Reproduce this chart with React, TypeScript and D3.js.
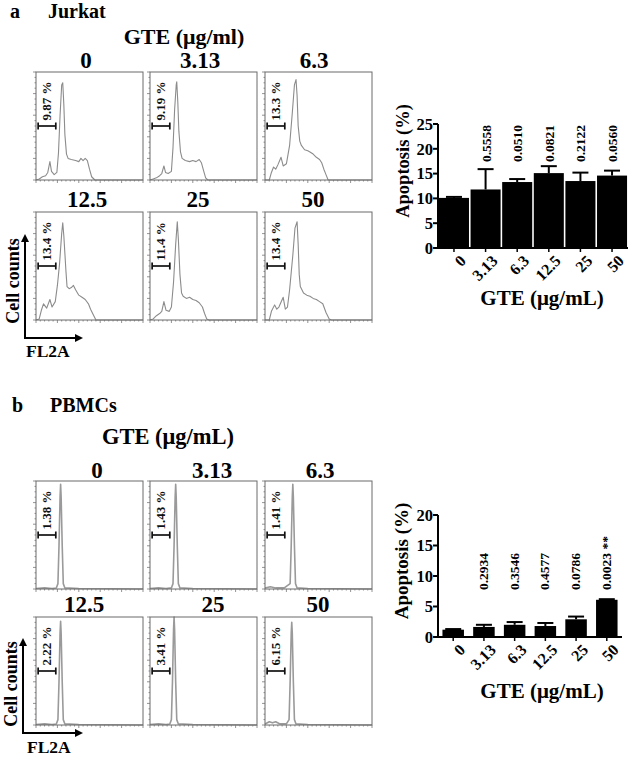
import React from 'react';
import * as d3 from 'd3';

// ---------------- DATA ----------------
const concentrations = ['0', '3.13', '6.3', '12.5', '25', '50'];

const jurkatApoptosis = [10.1, 11.8, 13.3, 15.1, 13.5, 14.6];
const jurkatError = [0.2, 4.1, 0.6, 1.4, 1.7, 1.0];
const jurkatPValues = ['', '0.5558', '0.0510', '0.0821', '0.2122', '0.0560'];
const jurkatYTicks = [0, 5, 10, 15, 20, 25];

const pbmcApoptosis = [1.2, 1.65, 2.0, 1.8, 2.9, 6.1];
const pbmcError = [0.1, 0.35, 0.45, 0.5, 0.45, 0.1];
const pbmcPValues = ['', '0.2934', '0.3546', '0.4577', '0.0786', '0.0023 **'];
const pbmcYTicks = [0, 5, 10, 15, 20];

const jurkatGates = ['9.87 %', '9.19 %', '13.3 %', '13.4 %', '11.4 %', '13.4 %'];
const pbmcGates = ['1.38 %', '1.43 %', '1.41 %', '2.22 %', '3.41 %', '6.15 %'];

// histogram traces (FL2A fraction, relative cell count)
const jurkatHist0 = [[0, 0], [0.03, 0.01], [0.06, 0.03], [0.09, 0.04], [0.11, 0.07], [0.13, 0.17], [0.145, 0.08], [0.17, 0.05], [0.195, 0.07], [0.21, 0.25], [0.225, 0.6], [0.24, 0.88], [0.25, 0.9], [0.26, 0.7], [0.27, 0.42], [0.285, 0.24], [0.3, 0.2], [0.33, 0.19], [0.37, 0.18], [0.4, 0.17], [0.42, 0.2], [0.44, 0.18], [0.46, 0.2], [0.48, 0.18], [0.5, 0.1], [0.52, 0.03], [0.55, 0], [1, 0]];
const jurkatHist313 = [[0, 0], [0.03, 0.01], [0.06, 0.02], [0.09, 0.04], [0.11, 0.06], [0.13, 0.13], [0.145, 0.07], [0.17, 0.06], [0.2, 0.08], [0.215, 0.3], [0.23, 0.65], [0.245, 0.88], [0.25, 0.91], [0.26, 0.72], [0.27, 0.45], [0.285, 0.26], [0.3, 0.2], [0.33, 0.18], [0.37, 0.17], [0.4, 0.18], [0.43, 0.17], [0.46, 0.19], [0.48, 0.16], [0.5, 0.09], [0.52, 0.02], [0.54, 0], [1, 0]];
const jurkatHist63 = [[0, 0], [0.04, 0], [0.06, 0.07], [0.08, 0.12], [0.1, 0.1], [0.12, 0.14], [0.15, 0.21], [0.17, 0.13], [0.2, 0.15], [0.23, 0.32], [0.255, 0.62], [0.275, 0.88], [0.29, 0.93], [0.3, 0.78], [0.31, 0.5], [0.325, 0.36], [0.34, 0.32], [0.37, 0.28], [0.4, 0.27], [0.42, 0.26], [0.45, 0.24], [0.48, 0.21], [0.51, 0.19], [0.53, 0.16], [0.55, 0.1], [0.57, 0.05], [0.59, 0], [1, 0]];
const jurkatHist125 = [[0, 0], [0.03, 0.01], [0.05, 0.09], [0.07, 0.15], [0.1, 0.11], [0.13, 0.19], [0.15, 0.12], [0.18, 0.17], [0.2, 0.32], [0.22, 0.52], [0.24, 0.8], [0.25, 0.9], [0.26, 0.78], [0.28, 0.45], [0.29, 0.31], [0.31, 0.29], [0.33, 0.3], [0.35, 0.32], [0.37, 0.28], [0.4, 0.23], [0.43, 0.21], [0.46, 0.19], [0.49, 0.15], [0.51, 0.1], [0.54, 0.04], [0.56, 0], [1, 0]];
const jurkatHist25 = [[0, 0], [0.03, 0.01], [0.06, 0.04], [0.09, 0.06], [0.11, 0.08], [0.13, 0.17], [0.15, 0.09], [0.18, 0.08], [0.2, 0.12], [0.22, 0.35], [0.24, 0.7], [0.255, 0.91], [0.265, 0.75], [0.28, 0.42], [0.295, 0.25], [0.31, 0.22], [0.34, 0.2], [0.37, 0.21], [0.4, 0.19], [0.43, 0.18], [0.46, 0.16], [0.49, 0.12], [0.51, 0.06], [0.53, 0.01], [0.55, 0], [1, 0]];
const jurkatHist50 = [[0, 0], [0.04, 0], [0.06, 0.08], [0.09, 0.14], [0.11, 0.1], [0.13, 0.12], [0.17, 0.21], [0.19, 0.1], [0.21, 0.12], [0.23, 0.28], [0.26, 0.6], [0.28, 0.85], [0.3, 0.91], [0.31, 0.7], [0.32, 0.42], [0.33, 0.31], [0.36, 0.25], [0.39, 0.23], [0.42, 0.22], [0.45, 0.2], [0.48, 0.19], [0.51, 0.17], [0.54, 0.15], [0.57, 0.07], [0.6, 0.01], [0.62, 0], [1, 0]];

const pbmcHist0 = [[0, 0.005], [0.08, 0.01], [0.15, 0.005], [0.19, 0.01], [0.205, 0.05], [0.215, 0.4], [0.225, 0.85], [0.23, 0.97], [0.235, 0.85], [0.245, 0.4], [0.255, 0.05], [0.27, 0.01], [0.4, 0.005], [1, 0]];
const pbmcHist313 = [[0, 0.005], [0.08, 0.01], [0.15, 0.005], [0.2, 0.01], [0.215, 0.05], [0.225, 0.4], [0.235, 0.85], [0.24, 0.97], [0.245, 0.85], [0.255, 0.4], [0.265, 0.05], [0.28, 0.01], [0.4, 0.005], [1, 0]];
const pbmcHist63 = [[0, 0.01], [0.05, 0.02], [0.1, 0.01], [0.18, 0.01], [0.235, 0.05], [0.245, 0.4], [0.255, 0.85], [0.26, 0.97], [0.265, 0.85], [0.275, 0.4], [0.285, 0.05], [0.3, 0.01], [0.4, 0.005], [1, 0]];
const pbmcHist125 = [[0, 0.005], [0.08, 0.01], [0.15, 0.005], [0.19, 0.01], [0.205, 0.05], [0.215, 0.4], [0.225, 0.85], [0.23, 0.96], [0.235, 0.85], [0.245, 0.4], [0.255, 0.05], [0.27, 0.01], [0.4, 0.005], [1, 0]];
const pbmcHist25 = [[0, 0.005], [0.08, 0.01], [0.15, 0.005], [0.185, 0.01], [0.2, 0.05], [0.21, 0.4], [0.22, 0.88], [0.225, 1.0], [0.23, 0.88], [0.24, 0.4], [0.25, 0.05], [0.265, 0.01], [0.4, 0.005], [1, 0]];
const pbmcHist50 = [[0, 0.01], [0.04, 0.03], [0.07, 0.02], [0.1, 0.03], [0.14, 0.01], [0.2, 0.01], [0.225, 0.05], [0.235, 0.4], [0.245, 0.85], [0.25, 0.95], [0.255, 0.85], [0.265, 0.4], [0.275, 0.05], [0.29, 0.01], [0.4, 0.005], [1, 0]];

const jurkatHists = [jurkatHist0, jurkatHist313, jurkatHist63, jurkatHist125, jurkatHist25, jurkatHist50];
const pbmcHists = [pbmcHist0, pbmcHist313, pbmcHist63, pbmcHist125, pbmcHist25, pbmcHist50];

// ---------------- LAYOUT ----------------
const FONT = '"Liberation Serif", "Times New Roman", serif';
const BOX_W = 107;
const BOX_H = 108;

type Pt = number[];

function Histogram({ x, y, pts, gate, color, width }: { x: number; y: number; pts: Pt[]; gate: string; color: string; width: number }) {
  const xs = d3.scaleLinear().domain([0, 1]).range([x, x + BOX_W]);
  const ys = d3.scaleLinear().domain([0, 1]).range([y + BOX_H, y]);
  const line = d3.line<Pt>().x((d) => xs(d[0])).y((d) => ys(d[1]));
  const leftTicks = d3.range(0, 21).map((i) => i / 20);
  const bottomTicks = d3.range(0, 26).map((i) => i / 25);
  const gy = ys(0.5);
  const gx0 = xs(0.02);
  const gx1 = xs(0.185);
  return (
    <g>
      {leftTicks.map((t, i) => (
        <line key={'l' + i} x1={x} x2={x - (i % 4 === 0 ? 3 : 1.5)} y1={ys(t)} y2={ys(t)} stroke="#777" strokeWidth={0.8} />
      ))}
      {bottomTicks.map((t, i) => (
        <line key={'b' + i} x1={xs(t)} x2={xs(t)} y1={y + BOX_H} y2={y + BOX_H + (i % 5 === 0 ? 3 : 1.5)} stroke="#777" strokeWidth={0.8} />
      ))}
      <path d={line(pts) || ''} fill="none" stroke={color} strokeWidth={width} strokeLinejoin="round" />
      <rect x={x} y={y} width={BOX_W} height={BOX_H} fill="none" stroke="#6a6a6a" strokeWidth={1} />
      <line x1={gx0} x2={gx1} y1={gy} y2={gy} stroke="#111" strokeWidth={1.7} />
      <line x1={gx0} x2={gx0} y1={gy - 3.5} y2={gy + 3.5} stroke="#111" strokeWidth={1.7} />
      <line x1={gx1} x2={gx1} y1={gy - 3.5} y2={gy + 3.5} stroke="#111" strokeWidth={1.7} />
      <text
        transform={`translate(${xs(0.1) + 4.5},${ys(0.55)}) rotate(-90)`}
        fontFamily={FONT}
        fontWeight="bold"
        fontSize={13}
        fill="#111"
      >
        {gate}
      </text>
    </g>
  );
}

function Arrows({ ox, oy, topY, rightX, textX, textY, flX, flY }: any) {
  return (
    <g>
      <line x1={ox} x2={ox} y1={oy} y2={topY + 6} stroke="#000" strokeWidth={2} />
      <polygon points={`${ox - 4},${topY + 8} ${ox + 4},${topY + 8} ${ox},${topY}`} fill="#000" />
      <line x1={ox - 1} x2={rightX - 6} y1={oy} y2={oy} stroke="#000" strokeWidth={2} />
      <polygon points={`${rightX - 8},${oy - 4} ${rightX - 8},${oy + 4} ${rightX},${oy}`} fill="#000" />
      <text transform={`translate(${textX},${textY}) rotate(-90)`} textAnchor="middle" fontFamily={FONT} fontWeight="bold" fontSize={18}>
        Cell counts
      </text>
      <text x={flX} y={flY} fontFamily={FONT} fontWeight="bold" fontSize={17.5}>
        FL2A
      </text>
    </g>
  );
}

function BarChart({ values, errors, pvals, ticks, yMax, x0, x1, yBottom, yTop, padIn, padOut, pvalY, pvalDx, titleX, titleY, titleSize, xTitleY }: any) {
  const xScale = d3.scaleBand<string>().domain(concentrations).range([x0, x1]).paddingInner(padIn).paddingOuter(padOut);
  const yScale = d3.scaleLinear().domain([0, yMax]).range([yBottom, yTop]);
  const bw = xScale.bandwidth();
  return (
    <g fontFamily={FONT} fontWeight="bold">
      {concentrations.map((c, i) => {
        const bx = xScale(c) as number;
        const cx = bx + bw / 2;
        const top = yScale(values[i]);
        const errTop = yScale(values[i] + errors[i]);
        return (
          <g key={c}>
            <line x1={cx} x2={cx} y1={top} y2={errTop} stroke="#000" strokeWidth={2} />
            <line x1={cx - 8} x2={cx + 8} y1={errTop} y2={errTop} stroke="#000" strokeWidth={2} />
            <rect x={bx} y={top} width={bw} height={yBottom - top} fill="#000" />
            <line x1={cx} x2={cx} y1={yBottom} y2={yBottom + 4} stroke="#000" strokeWidth={1.5} />
            <text transform={`translate(${cx + 9},${yBottom + 10}) rotate(-45)`} textAnchor="end" dy="0.35em" fontSize={16}>
              {c}
            </text>
            {pvals[i] ? (
              <text transform={`translate(${cx + pvalDx},${pvalY}) rotate(-90)`} fontSize={13.5}>
                {pvals[i]}
              </text>
            ) : null}
          </g>
        );
      })}
      <line x1={x0} x2={x0} y1={yBottom + 1} y2={yTop} stroke="#000" strokeWidth={2} />
      <line x1={x0 - 1} x2={x1} y1={yBottom} y2={yBottom} stroke="#000" strokeWidth={2} />
      {ticks.map((t: number) => (
        <g key={t}>
          <line x1={x0 - 5} x2={x0} y1={yScale(t)} y2={yScale(t)} stroke="#000" strokeWidth={2} />
          <text x={x0 - 5} y={yScale(t)} dy="0.35em" textAnchor="end" fontSize={16.5}>
            {t}
          </text>
        </g>
      ))}
      <text transform={`translate(${titleX},${titleY}) rotate(-90)`} textAnchor="middle" fontSize={titleSize}>
        Apoptosis (%)
      </text>
      <text x={542} y={xTitleY} textAnchor="middle" fontSize={21}>
        GTE (μg/mL)
      </text>
    </g>
  );
}

const colX = [36, 150, 265];

export default function App() {
  const aRows = [72, 212];
  const bRows = [481, 617];
  const aLabelX = [86, 200, 314, 87, 198, 313];
  const aLabelY = [68, 68, 68, 207, 207, 207];
  const bLabelX = [97, 212, 320, 84, 213, 318];
  const bLabelY = [478, 478, 478, 612, 612, 612];
  return (
    <svg width={638} height={758} style={{ position: 'absolute', left: 0, top: 0, background: '#fff' }} xmlns="http://www.w3.org/2000/svg">
      <rect width={638} height={758} fill="#fff" />
      <g fontFamily={FONT} fontWeight="bold" fill="#000">
        <text x={10} y={18} fontSize={20}>a</text>
        <text x={48} y={18} fontSize={20}>Jurkat</text>
        <text x={184} y={44} fontSize={22} textAnchor="middle">GTE (μg/ml)</text>
        {concentrations.map((c, i) => (
          <text key={'al' + i} x={aLabelX[i]} y={aLabelY[i]} fontSize={23} textAnchor="middle">{c}</text>
        ))}
        <text x={12} y={412} fontSize={20}>b</text>
        <text x={50} y={412} fontSize={20}>PBMCs</text>
        <text x={168} y={444} fontSize={22.5} textAnchor="middle">GTE (μg/mL)</text>
        {concentrations.map((c, i) => (
          <text key={'bl' + i} x={bLabelX[i]} y={bLabelY[i]} fontSize={23} textAnchor="middle">{c}</text>
        ))}
      </g>
      {jurkatHists.map((pts, i) => (
        <Histogram key={'ja' + i} x={colX[i % 3]} y={aRows[Math.floor(i / 3)]} pts={pts} gate={jurkatGates[i]} color="#8c8c8c" width={1.1} />
      ))}
      {pbmcHists.map((pts, i) => (
        <Histogram key={'pb' + i} x={colX[i % 3]} y={bRows[Math.floor(i / 3)]} pts={pts} gate={pbmcGates[i]} color="#9a9a9a" width={1.6} />
      ))}
      <Arrows ox={25} oy={338} topY={234} rightX={83} textX={19} textY={281} flX={26} flY={357} />
      <Arrows ox={23} oy={733} topY={638} rightX={83} textX={17} textY={684} flX={27} flY={753} />
      <BarChart
        values={jurkatApoptosis}
        errors={jurkatError}
        pvals={jurkatPValues}
        ticks={jurkatYTicks}
        yMax={25}
        x0={438}
        x1={628}
        yBottom={248}
        yTop={124}
        padIn={0.05}
        padOut={0.03}
        pvalY={162}
        pvalDx={5}
        titleX={409}
        titleY={161}
        titleSize={18.5}
        xTitleY={305}
      />
      <BarChart
        values={pbmcApoptosis}
        errors={pbmcError}
        pvals={pbmcPValues}
        ticks={pbmcYTicks}
        yMax={20}
        x0={438}
        x1={622}
        yBottom={637}
        yTop={515}
        padIn={0.3}
        padOut={0.145}
        pvalY={590}
        pvalDx={4}
        titleX={408}
        titleY={561}
        titleSize={19}
        xTitleY={698}
      />
    </svg>
  );
}
